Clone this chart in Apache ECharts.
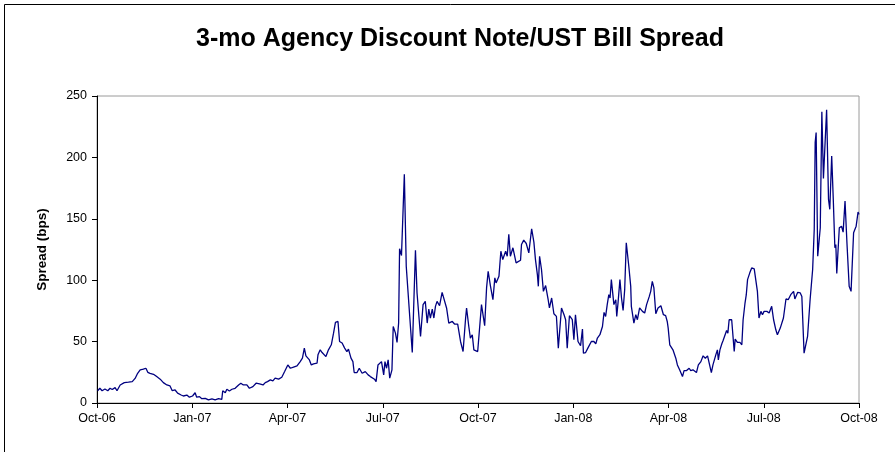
<!DOCTYPE html>
<html>
<head>
<meta charset="utf-8">
<script src="https://cdn.jsdelivr.net/npm/echarts@6/dist/echarts.min.js"></script>
<style>
  html, body { margin: 0; padding: 0; background: #fff; }
  #chart { width: 895px; height: 452px; }
</style>
</head>
<body>
<div id="chart"></div>
<script>
// quarterly tick labels, one every 3 months from Oct-06
var tickLabels = ['Oct-06', 'Jan-07', 'Apr-07', 'Jul-07', 'Oct-07', 'Jan-08', 'Apr-08', 'Jul-08', 'Oct-08']

// x position in months since Oct-06
var monthsSinceOct06 = [
  0.02, 0.09, 0.16, 0.25, 0.34, 0.41, 0.48, 0.57, 0.63, 0.73, 0.86, 0.99, 1.11, 1.20, 1.28, 1.36, 1.41, 1.46, 1.54, 1.60,
  1.67, 1.78, 1.88, 1.99, 2.09, 2.20, 2.30, 2.37, 2.46, 2.54, 2.65, 2.72, 2.83, 2.91, 3.01,
  3.09, 3.14, 3.23, 3.30, 3.41, 3.51, 3.62, 3.72, 3.83, 3.93, 3.96, 4.04, 4.09, 4.17, 4.25, 4.35, 4.46, 4.53, 4.61, 4.72,
  4.80, 4.91, 5.01, 5.12, 5.23, 5.30, 5.37, 5.46, 5.54, 5.61, 5.72, 5.82, 5.91,
  6.01, 6.09, 6.19, 6.30, 6.40, 6.47, 6.53, 6.58, 6.69, 6.75, 6.82, 6.93, 6.96, 7.03, 7.09, 7.14, 7.21, 7.29, 7.38, 7.45,
  7.51, 7.59, 7.64, 7.72, 7.80, 7.87, 7.92, 8.00, 8.06, 8.10, 8.19, 8.26, 8.35, 8.45, 8.54, 8.61, 8.66, 8.74, 8.79, 8.85, 8.96,
  9.03, 9.07, 9.12, 9.17, 9.22, 9.29, 9.33, 9.40, 9.45, 9.50, 9.53, 9.59, 9.68, 9.74, 9.85, 9.93, 10.03, 10.08, 10.19, 10.27,
  10.34, 10.40, 10.45, 10.50, 10.56, 10.61, 10.66, 10.71, 10.79, 10.87, 10.92, 11.01, 11.08, 11.19, 11.26, 11.36, 11.45, 11.53,
  11.61, 11.64, 11.71, 11.76, 11.82, 11.87, 11.99, 12.05,
  12.11, 12.21, 12.27, 12.32, 12.39, 12.47, 12.53, 12.57, 12.66, 12.72, 12.78, 12.87, 12.92, 12.97, 13.02, 13.10, 13.20, 13.34,
  13.37, 13.44, 13.52, 13.60, 13.69, 13.76, 13.81, 13.87, 13.90, 13.94, 14.00, 14.06, 14.13, 14.21, 14.25, 14.32, 14.39, 14.47,
  14.53, 14.63, 14.71, 14.76, 14.81, 14.88, 14.97, 15.02,
  15.07, 15.15, 15.23, 15.29, 15.32, 15.39, 15.44, 15.46, 15.52, 15.57, 15.65, 15.71, 15.76, 15.84, 15.92, 15.97, 16.02, 16.07,
  16.12, 16.16, 16.20, 16.23, 16.28, 16.34, 16.37, 16.41, 16.47, 16.52, 16.57, 16.62, 16.67, 16.75, 16.81, 16.83, 16.87, 16.91,
  16.97, 17.02, 17.09, 17.18, 17.25, 17.31, 17.39, 17.44, 17.49, 17.54, 17.60, 17.67, 17.76, 17.84, 17.91, 17.96, 17.99, 18.04,
  18.14, 18.23, 18.28, 18.35, 18.44, 18.49, 18.57, 18.65, 18.70, 18.77, 18.88, 18.94, 19.02, 19.09, 19.16, 19.23, 19.28, 19.35,
  19.40, 19.49, 19.54, 19.57, 19.62, 19.68, 19.72, 19.78, 19.83, 19.87, 19.91, 19.99, 20.07, 20.10, 20.17, 20.25, 20.31, 20.35,
  20.41, 20.45, 20.49, 20.56, 20.62, 20.70, 20.75, 20.80, 20.85,
  20.91, 20.96, 21.01, 21.10, 21.17, 21.25, 21.31, 21.38, 21.43, 21.52, 21.62, 21.70, 21.77, 21.85, 21.94, 21.98, 22.07, 22.15,
  22.20, 22.27, 22.38, 22.46, 22.54, 22.59, 22.62, 22.65, 22.70, 22.78, 22.83, 22.88, 22.98, 23.04, 23.08, 23.14, 23.19, 23.24,
  23.27, 23.30, 23.38, 23.45, 23.50, 23.56, 23.62, 23.69, 23.75, 23.83, 23.91, 23.97, 24.00
]

// spread in basis points, same order as above
var spreadBps = [
  10, 12, 10, 11.4, 10, 12, 11, 12.5, 10, 14.7, 16.6, 17, 17.4, 20, 24.2, 27, 25.6, 27.5, 28.3, 25,
  24.2, 23.4, 21.5, 19.4, 16.6, 14.7, 13.9, 10, 10.6, 8, 6.5, 5.7, 6.5, 4.7, 5.7,
  8.4, 4.7, 5.2, 3.5, 3.8, 2.5, 3.3, 2.5, 3.5, 3, 10, 8.4, 11.2, 9.8, 11.2, 12, 14.7, 16.1, 14.7, 14.7,
  12, 13.3, 16.1, 15.5, 14.7, 16.6, 17.4, 18.8, 18, 20.2, 19.4, 21, 25.6,
  31, 28.3, 29.2, 30.2, 33.7, 36.5, 44.7, 38.4, 35.1, 31, 31.9, 32.4, 39.2, 43.3, 41.1, 42.7, 37.8, 43.3, 47.4, 56.9,
  65.6, 66.4, 50.1, 48.8, 44.7, 41.9, 43.9, 36.5, 33.7, 24.8, 24.8, 28.3, 24.2, 25.6, 22.9, 21.5, 22.9, 19.4, 17.4, 31, 33.7,
  22.9, 33.7, 28.3, 35.1, 20.2, 27, 62.3, 56.9, 49.3, 65.1, 125.6, 120.1, 186.3, 111.4, 70.5, 41.1, 124.4, 89.6, 54.2, 80.1,
  82.8, 65.1, 76.5, 69.2, 76.5, 69.2, 78.7, 82.8, 79.2, 90.1, 89.6, 77.4, 65.1, 66.4, 64.3, 64.3, 50.1, 41.9,
  69.2, 77.4, 62.3, 52.8, 55.6, 43.3, 41.9, 41.1,
  80.1, 62.9, 93.7, 107.3, 95.6, 84.1, 101.9, 97.8, 103.2, 123.6, 116.8, 123.6, 119.5, 137.3, 119.5, 126.4, 114.1, 116.3,
  129.1, 132.6, 129.9, 122.3, 141.9, 131, 116.8, 104.6, 95, 119.5, 108.7, 90.9, 95.6, 84.1, 77.4, 85.5, 72.7, 70.5,
  44.7, 77.4, 71.9, 67.8, 44.7, 71.1, 67.8, 51.5,
  71.9, 50.1, 46.6, 60.2, 40.6, 41.1, 40, 44.7, 43.3, 50.1, 50.1, 48.2, 52.9, 55.6, 62.3, 73.8, 70.5, 80.1,
  88.2, 85.5, 100.5, 101.9, 80.1, 84.1, 70.5, 81.4, 100.5, 85.5, 75.4, 92.3, 130.5, 111.4, 95, 78.7, 80.1, 65.1,
  71.9, 67.8, 77.4, 74.6, 73.3, 80.1, 86.4, 90.9, 99.1, 93.7, 72.7, 77.4, 79.2, 71.9, 71.1, 66.4, 61, 47.4,
  43.3, 36.5, 31, 27, 21.5, 26.4, 26.4, 28.3, 26.4, 27, 24.8, 31, 33.7, 38.4, 36.5, 38.4, 37.3, 24.8,
  31, 39.2, 43.3, 35.1, 43.3, 48.2, 50.9, 51.5, 59.1, 56.9, 67.8, 67.8, 41.9, 52, 49.3, 49.3, 47.4, 67.8,
  81.4, 88.2, 100.5, 106, 110, 109.2, 108.7, 90.9, 69.2,
  74.6, 71.9, 74.6, 74.6, 73.3, 78.7, 67.8, 59.6, 55.6, 61, 69.2, 84.7, 84.1, 88.2, 90.9, 84.7, 90.1, 89.6,
  86.8, 40.6, 54.2, 84.1, 108.7, 141.3, 212.2, 220.3, 119.5, 142.7, 237.2, 182.8, 238.8, 165.8, 157.7, 201.2, 165.8, 126.4,
  129.1, 105.4, 142.7, 144, 139.1, 164.5, 130.5, 95, 90.9, 138.6, 144, 155.5, 153.6
]

var seriesData = monthsSinceOct06.map(function (m, i) {
  return [m, spreadBps[i]]
})

var myChart = echarts.init(document.getElementById('chart'))
myChart.setOption({
  animation: false,
  backgroundColor: '#fff',
  title: {
    text: '3-mo Agency Discount Note/UST Bill Spread',
    left: 455,
    top: 22,
    textAlign: 'center',
    textStyle: {
      fontFamily: 'Liberation Sans, Arial, sans-serif',
      fontSize: 25,
      fontWeight: 'bold',
      color: '#000',
    },
  },
  graphic: [
    {
      // outer chart frame
      type: 'rect',
      shape: { x: 4.5, y: 4.5, width: 920, height: 470 },
      style: { fill: 'none', stroke: '#000', lineWidth: 1 },
      silent: true,
    },
  ],
  grid: {
    left: 97,
    right: 36,
    top: 96,
    bottom: 49,
    show: true,
    borderColor: '#9a9a9a',
    borderWidth: 1,
  },
  xAxis: {
    type: 'value',
    min: 0,
    max: 24,
    interval: 3,
    axisLine: { show: true, lineStyle: { color: '#000', width: 1 } },
    axisTick: { show: true, length: 5, lineStyle: { color: '#000' } },
    splitLine: { show: false },
    axisLabel: {
      margin: 9,
      fontFamily: 'Liberation Sans, Arial, sans-serif',
      fontSize: 12.5,
      color: '#000',
      formatter: function (v) {
        return tickLabels[Math.round(v / 3)]
      },
    },
  },
  yAxis: {
    type: 'value',
    min: 0,
    max: 250,
    interval: 50,
    name: 'Spread (bps)',
    nameLocation: 'middle',
    nameGap: 48,
    nameTextStyle: {
      fontFamily: 'Liberation Sans, Arial, sans-serif',
      fontSize: 13.5,
      fontWeight: 'bold',
      color: '#000',
    },
    axisLine: { show: true, lineStyle: { color: '#000', width: 1 } },
    axisTick: { show: true, length: 5, lineStyle: { color: '#000' } },
    splitLine: { show: false },
    axisLabel: {
      margin: 10,
      fontFamily: 'Liberation Sans, Arial, sans-serif',
      fontSize: 12.5,
      color: '#000',
    },
  },
  series: [
    {
      type: 'line',
      data: seriesData,
      showSymbol: false,
      symbol: 'none',
      lineStyle: { color: '#000080', width: 1.3 },
    },
  ],
})
</script>
</body>
</html>
